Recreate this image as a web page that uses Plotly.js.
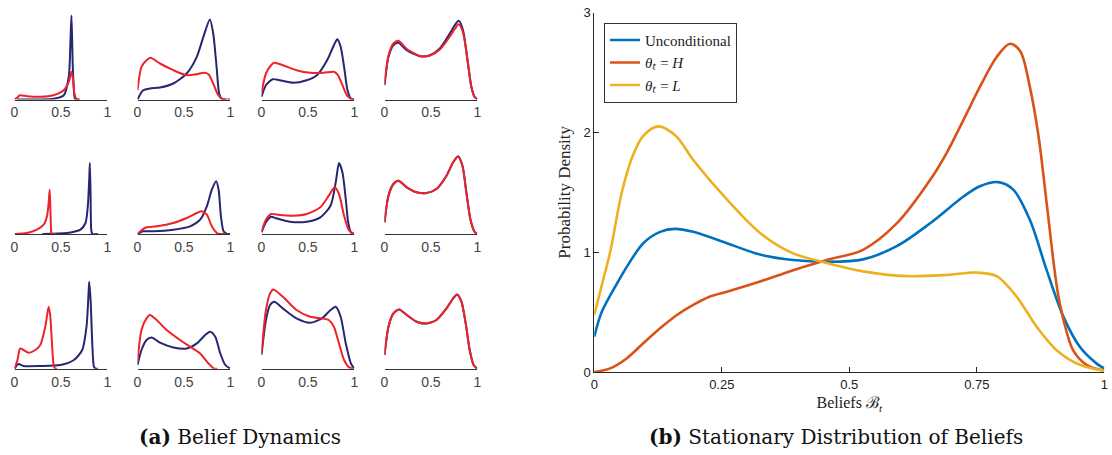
<!DOCTYPE html>
<html>
<head>
<meta charset="utf-8">
<script src="https://cdn.plot.ly/plotly-3.0.1.min.js"></script>
<style>html,body{margin:0;padding:0;background:#fff;}#chart{width:1112px;height:455px;}</style>
</head>
<body>
<div id="chart"></div>
<script>
// ---------- Panel (a): Belief Dynamics, 3x4 small multiples ([belief, density] pairs, arbitrary units) ----------
const r1c1Blue = [[0.03,0],[0.2,0],[0.4,0.5],[0.53,4],[0.585,23],[0.603,59],[0.614,84],[0.628,33],[0.646,3],[0.657,0],[0.7,0]];
const r1c1Red  = [[0,0],[0.03,2],[0.06,4.3],[0.134,3.3],[0.278,2.7],[0.42,4.3],[0.53,9.3],[0.585,17.7],[0.614,27.7],[0.632,19],[0.646,6],[0.668,0.5],[0.7,0]];
const r1c2Blue = [[0,0],[0.061,9.3],[0.134,11],[0.242,12],[0.386,16],[0.53,26],[0.639,42.7],[0.71,62.7],[0.78,80],[0.816,66],[0.852,32.7],[0.88,6],[0.906,0.7],[0.95,0]];
const r1c2Red  = [[0,9.3],[0.043,32.7],[0.097,39.3],[0.14,41.7],[0.242,36],[0.386,29.3],[0.53,24.3],[0.64,25.3],[0.71,26.7],[0.765,25.3],[0.816,16],[0.87,4.3],[0.92,0.3],[1,0]];
const r1c3Blue = [[0,2.7],[0.048,14.3],[0.12,20.3],[0.194,19.3],[0.34,16.7],[0.487,19.3],[0.597,24.3],[0.707,39.3],[0.78,54.3],[0.817,60.3],[0.853,52.7],[0.89,32.7],[0.927,9.3],[0.963,1],[1,0]];
const r1c3Red  = [[0,6.7],[0.048,26],[0.103,34.3],[0.139,36.7],[0.23,34.3],[0.377,29.3],[0.524,26.7],[0.67,26.7],[0.78,27.7],[0.824,24.3],[0.872,14.3],[0.927,3.3],[0.98,0],[1,0]];
const r1c4Blue = [[0,14.3],[0.043,42.7],[0.096,54.3],[0.15,56.7],[0.24,49.3],[0.382,43.3],[0.49,44.3],[0.596,51],[0.704,66],[0.757,74.3],[0.8,78.7],[0.846,69.3],[0.9,36],[0.936,12.7],[0.97,2.7],[1,0.3]];
const r1c4Red  = [[0,15],[0.043,44],[0.096,56],[0.15,58.7],[0.24,50.5],[0.382,43.5],[0.49,44],[0.596,50],[0.704,63],[0.757,70.5],[0.8,75.3],[0.846,67],[0.9,35],[0.936,12.5],[0.97,2.7],[1,0.3]];
const r2c1Blue = [[0.3,0],[0.567,1],[0.711,4.3],[0.765,11],[0.79,27.7],[0.805,54.3],[0.812,71],[0.82,37.7],[0.827,4.3],[0.838,0],[0.9,0]];
const r2c1Red  = [[0,0],[0.134,1],[0.242,4.3],[0.314,9.3],[0.35,17.7],[0.368,31],[0.379,44.3],[0.386,27.7],[0.394,4.3],[0.4,0],[0.45,0]];
const r2c2Blue = [[0,0],[0.061,2.7],[0.17,2.7],[0.386,4.3],[0.567,7.7],[0.675,14.3],[0.747,27.7],[0.801,44.3],[0.848,52.7],[0.874,44.3],[0.899,17.7],[0.928,2.7],[0.964,0],[1,0]];
const r2c2Red  = [[0,0],[0.043,3.7],[0.097,6.7],[0.206,7.7],[0.386,11],[0.53,16],[0.64,21],[0.693,22.7],[0.747,19.3],[0.801,7.7],[0.856,1],[0.89,0],[0.95,0]];
const r2c3Blue = [[0,1.7],[0.048,11.7],[0.103,17.3],[0.158,15.7],[0.304,12.3],[0.487,12.3],[0.634,16.7],[0.744,28.3],[0.8,51.7],[0.835,71],[0.872,61.7],[0.908,35],[0.934,11.7],[0.963,1.7],[1,0]];
const r2c3Red  = [[0,2.7],[0.048,14.3],[0.103,20],[0.194,19],[0.34,18.3],[0.487,20],[0.634,26.7],[0.725,38.3],[0.788,46.7],[0.835,40],[0.89,18.3],[0.945,3.3],[1,0]];
const r2c4Blue = [[0,11.7],[0.043,38.3],[0.096,50],[0.15,53.3],[0.24,46.7],[0.346,41.7],[0.454,41],[0.56,45],[0.668,58.3],[0.74,71.7],[0.793,77.7],[0.84,68.3],[0.882,41.7],[0.925,15],[0.97,2.3],[1,0]];
const r2c4Red  = [[0,11.7],[0.043,38.3],[0.096,50],[0.15,53.3],[0.24,46.7],[0.346,41.7],[0.454,41],[0.56,45],[0.668,58.3],[0.74,71.7],[0.793,77.2],[0.84,68],[0.882,41.7],[0.925,15],[0.97,2.3],[1,0]];
const r3c1Blue = [[0,0],[0.043,4.7],[0.097,2.7],[0.278,2.7],[0.495,3.7],[0.64,8.7],[0.73,18.7],[0.776,42],[0.798,75.3],[0.805,87],[0.82,68.7],[0.838,25.3],[0.856,2],[0.874,0],[0.9,0]];
const r3c1Red  = [[0,0],[0.032,8.7],[0.061,20.3],[0.097,18.7],[0.152,16],[0.224,18.7],[0.278,23.7],[0.332,42],[0.368,62],[0.386,52],[0.404,25.3],[0.422,3.7],[0.44,0],[0.46,0]];
const r3c2Blue = [[0,3.7],[0.043,18.7],[0.097,28.7],[0.152,31.3],[0.242,26],[0.386,21.3],[0.53,20.3],[0.64,25.3],[0.729,33.7],[0.783,37],[0.838,32],[0.892,15.3],[0.946,3.7],[1,0]];
const r3c2Red  = [[0,7],[0.043,38.7],[0.097,50.3],[0.134,53.7],[0.206,48.7],[0.314,38.7],[0.458,28.7],[0.567,22],[0.675,15.3],[0.765,5.3],[0.82,0.3],[0.86,0]];
const r3c3Blue = [[0,13.7],[0.048,48.7],[0.092,63.7],[0.139,67],[0.23,60.3],[0.377,50.3],[0.524,46],[0.652,50.3],[0.744,58.7],[0.8,62],[0.853,52],[0.908,25.3],[0.963,5.3],[1,0]];
const r3c3Red  = [[0,15.3],[0.048,58.7],[0.092,75.3],[0.128,79.3],[0.23,72],[0.377,58.7],[0.524,52],[0.652,50.3],[0.725,48.7],[0.78,42],[0.835,25.3],[0.89,8.7],[0.945,1.3],[0.985,0]];
const r3c4Blue = [[0,13.7],[0.043,42],[0.096,55.3],[0.157,59.3],[0.24,53.7],[0.346,47],[0.454,45.3],[0.56,48.7],[0.668,60.3],[0.74,70.3],[0.782,74.3],[0.829,67],[0.875,45.3],[0.918,18.7],[0.96,3.7],[1,0]];
const r3c4Red  = [[0,13.7],[0.043,42],[0.096,55.3],[0.157,59.3],[0.24,53.7],[0.346,47],[0.454,45.3],[0.56,48.7],[0.668,60.3],[0.74,70.3],[0.782,74.3],[0.829,67],[0.875,45.3],[0.918,18.7],[0.96,3.7],[1,0]];
const smallTickVals = [0, 0.5, 1];
const smallTickText = ['0', '0.5', '1'];

// ---------- Panel (b): Stationary Distribution of Beliefs ----------
const uncondX = [0,0.0145,0.046,0.064,0.096,0.129,0.158,0.194,0.26,0.325,0.39,0.456,0.527,0.593,0.658,0.724,0.756,0.792,0.822,0.854,0.887,0.92,0.952,0.985,1];
const uncondY = [0.295,0.5,0.75,0.88,1.075,1.17,1.195,1.17,1.075,0.98,0.935,0.92,0.94,1.05,1.24,1.465,1.55,1.585,1.52,1.27,0.85,0.46,0.21,0.07,0.03];
const highX = [0,0.031,0.064,0.096,0.129,0.162,0.194,0.227,0.26,0.325,0.39,0.456,0.527,0.593,0.658,0.691,0.724,0.756,0.789,0.815,0.835,0.854,0.871,0.887,0.907,0.92,0.939,0.965,1];
const highY = [0,0.03,0.115,0.24,0.365,0.476,0.56,0.63,0.67,0.755,0.85,0.935,1.02,1.24,1.60,1.83,2.105,2.38,2.63,2.74,2.68,2.38,1.97,1.41,0.71,0.435,0.18,0.06,0.01];
const lowX = [0,0.015,0.031,0.054,0.075,0.096,0.125,0.16,0.194,0.26,0.325,0.39,0.456,0.527,0.613,0.691,0.75,0.789,0.828,0.867,0.907,0.952,1];
const lowY = [0.476,0.73,1.0,1.5,1.8,1.97,2.05,1.97,1.77,1.44,1.16,0.99,0.91,0.84,0.80,0.81,0.83,0.80,0.63,0.38,0.18,0.06,0.01];
const bigTickValsX = [0, 0.25, 0.5, 0.75, 1];
const bigTickTextX = ['0', '0.25', '0.5', '0.75', '1'];
const bigTickValsY = [0, 1, 2, 3];
const seriesNames = ['Unconditional', '<i>θₜ</i> = <i>H</i>', '<i>θₜ</i> = <i>L</i>'];

const W = 1112, H = 455;
const SANS = "'Liberation Sans', Arial, sans-serif";
const SERIF = "'Liberation Serif', 'Times New Roman', serif";
const CAPTION = "'DejaVu Serif', serif";
const panels = [
  [r1c1Blue, r1c1Red], [r1c2Blue, r1c2Red], [r1c3Blue, r1c3Red], [r1c4Blue, r1c4Red],
  [r2c1Blue, r2c1Red], [r2c2Blue, r2c2Red], [r2c3Blue, r2c3Red], [r2c4Blue, r2c4Red],
  [r3c1Blue, r3c1Red], [r3c2Blue, r3c2Red], [r3c3Blue, r3c3Red], [r3c4Blue, r3c4Red]
];
const baselines = [99.5, 234, 368.7];
const colLeft = [14.5, 137.5, 261.5, 384.5];
const panelW = 92.8, panelH = 90;

const traces = [];
const layout = {
  width: W, height: H,
  margin: {l: 0, r: 0, t: 0, b: 0},
  paper_bgcolor: '#fff', plot_bgcolor: 'rgba(0,0,0,0)',
  showlegend: true,
  font: {family: SANS, color: '#333'},
  annotations: []
};

panels.forEach((p, i) => {
  const n = i + 1;
  const r = Math.floor(i / 4), c = i % 4;
  const xa = 'x' + (n === 1 ? '' : n), ya = 'y' + (n === 1 ? '' : n);
  const [blue, red] = p;
  traces.push({x: blue.map(d => d[0]), y: blue.map(d => d[1]), xaxis: xa, yaxis: ya, type: 'scatter', mode: 'lines',
    line: {color: '#262673', width: 2, shape: 'spline', smoothing: 0.7}, showlegend: false, hoverinfo: 'skip'});
  traces.push({x: red.map(d => d[0]), y: red.map(d => d[1]), xaxis: xa, yaxis: ya, type: 'scatter', mode: 'lines',
    line: {color: '#ee2229', width: 2, shape: 'spline', smoothing: 0.7}, showlegend: false, hoverinfo: 'skip'});
  const base = baselines[r];
  layout['xaxis' + (n === 1 ? '' : n)] = {
    domain: [colLeft[c] / W, (colLeft[c] + panelW) / W], anchor: ya, range: [0, 1],
    showgrid: false, zeroline: false, showline: true, linecolor: '#333', linewidth: 1,
    ticks: '', tickvals: smallTickVals, ticktext: smallTickText,
    tickfont: {family: SANS, size: 14, color: '#444'}, fixedrange: true
  };
  layout['yaxis' + (n === 1 ? '' : n)] = {
    domain: [1 - base / H, 1 - (base - panelH) / H], anchor: xa, range: [0, 90],
    visible: false, fixedrange: true
  };
});

// Big chart
const bx = 'x13', by = 'y13';
const bigColors = ['#0072BD', '#D95319', '#EDB120'];
[[uncondX, uncondY], [highX, highY], [lowX, lowY]].forEach((s, k) => {
  traces.push({x: s[0], y: s[1], xaxis: bx, yaxis: by, type: 'scatter', mode: 'lines', name: seriesNames[k],
    line: {color: bigColors[k], width: 2.6, shape: 'spline', smoothing: 0.9}, hoverinfo: 'skip'});
});
layout.xaxis13 = {
  domain: [594.3 / W, 1104.3 / W], anchor: by, range: [0, 1],
  showgrid: false, zeroline: false, showline: true, linecolor: '#262626', linewidth: 1,
  ticks: 'inside', ticklen: 5, tickcolor: '#262626', tickwidth: 1,
  tickvals: bigTickValsX, ticktext: bigTickTextX,
  tickfont: {family: SANS, size: 13, color: '#222'},
  title: {text: 'Beliefs ℬ<sub><i>t</i></sub>', font: {family: SERIF, size: 16, color: '#222'}, standoff: 6},
  fixedrange: true
};
layout.yaxis13 = {
  domain: [1 - 372 / H, 1 - 12.6 / H], anchor: bx, range: [0, 3],
  showgrid: false, zeroline: false, showline: true, linecolor: '#262626', linewidth: 1,
  ticks: 'inside', ticklen: 5, tickcolor: '#262626', tickwidth: 1,
  tickvals: bigTickValsY, ticktext: bigTickValsY.map(String),
  tickfont: {family: SANS, size: 13, color: '#222'},
  title: {text: 'Probability Density', font: {family: SERIF, size: 17, color: '#222'}, standoff: 8},
  fixedrange: true
};
layout.legend = {
  x: 604 / W, y: 1 - 22.7 / H, xanchor: 'left', yanchor: 'top',
  bgcolor: '#fff', bordercolor: '#333', borderwidth: 1,
  font: {family: SERIF, size: 15, color: '#222'},
  tracegroupgap: 0, itemwidth: 30
};

layout.annotations.push({
  xref: 'paper', yref: 'paper', x: 240 / W, y: 1 - 437 / H, xanchor: 'center', yanchor: 'middle', showarrow: false,
  text: '<b>(a)</b> Belief Dynamics', font: {family: CAPTION, size: 20, color: '#111'}
});
layout.annotations.push({
  xref: 'paper', yref: 'paper', x: 836 / W, y: 1 - 437 / H, xanchor: 'center', yanchor: 'middle', showarrow: false,
  text: '<b>(b)</b> Stationary Distribution of Beliefs', font: {family: CAPTION, size: 20, color: '#111'}
});

Plotly.newPlot('chart', traces, layout, {staticPlot: true, displayModeBar: false});
</script>
</body>
</html>
